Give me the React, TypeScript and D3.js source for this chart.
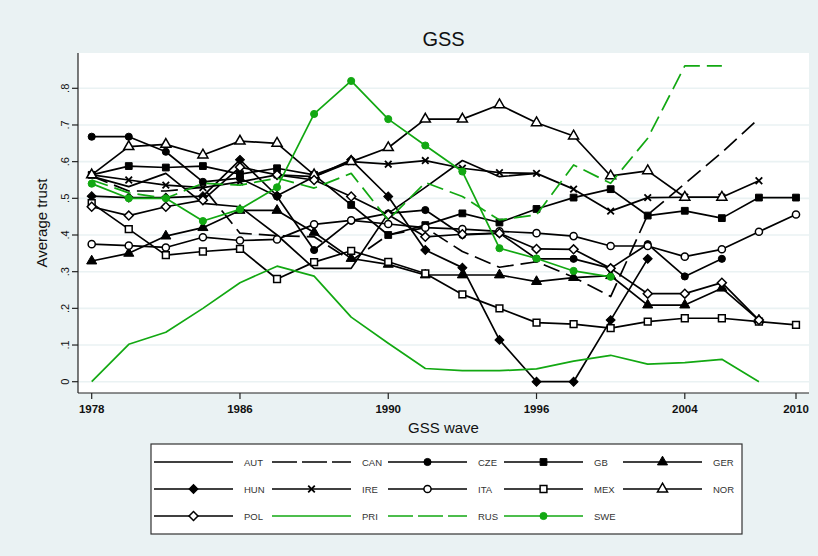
import * as d3 from "d3";

// GSS waves on the x axis (equally spaced)
const waves = ["1978", "1980", "1982", "1984", "1986", "1987", "1988", "1989", "1990", "1991",
  "1993", "1994", "1996", "1998", "2000", "2002", "2004", "2006", "2008", "2010"];
const xTickWaves = ["1978", "1986", "1990", "1996", "2004", "2010"];
const yTicks = [0, 0.1, 0.2, 0.3, 0.4, 0.5, 0.6, 0.7, 0.8];
const yTickLabels = ["0", ".1", ".2", ".3", ".4", ".5", ".6", ".7", ".8"];

const n = null;
const AUT = [0.56, 0.532, 0.568, 0.486, 0.477, 0.40, 0.309, 0.309, 0.459, 0.53, 0.603, 0.559, 0.568, n, n, n, n, n, n, n];
const CAN = [0.56, 0.52, 0.52, 0.53, 0.405, 0.398, 0.395, 0.33, 0.40, 0.42, 0.355, 0.312, 0.327, 0.285, 0.232, 0.455, 0.54, 0.625, 0.718, n];
const CZE = [0.668, 0.668, 0.627, 0.545, 0.555, 0.505, 0.359, 0.439, 0.459, 0.468, 0.40, 0.405, 0.335, 0.335, 0.309, 0.375, 0.287, 0.335, n, n];
const GB = [0.564, 0.588, 0.584, 0.588, 0.566, 0.582, 0.564, 0.482, 0.40, 0.427, 0.459, 0.434, 0.471, 0.502, 0.525, 0.453, 0.466, 0.446, 0.502, 0.502];
const GER = [0.329, 0.35, 0.397, 0.42, 0.467, 0.467, 0.407, 0.336, 0.32, 0.291, 0.291, 0.291, 0.273, 0.284, 0.289, 0.209, 0.209, 0.255, 0.168, n];
const HUN = [0.506, 0.502, 0.502, 0.506, 0.605, 0.507, 0.559, 0.605, 0.505, 0.359, 0.311, 0.114, 0, 0, 0.168, 0.335, n, n, n, n];
const IRE = [0.564, 0.55, 0.536, 0.529, 0.545, 0.564, 0.559, 0.60, 0.593, 0.603, 0.582, 0.57, 0.568, 0.525, 0.465, 0.502, 0.503, 0.503, 0.548, n];
const ITA = [0.375, 0.371, 0.366, 0.394, 0.385, 0.388, 0.429, 0.44, 0.43, 0.42, 0.416, 0.41, 0.405, 0.397, 0.37, 0.37, 0.341, 0.361, 0.409, 0.456];
const MEX = [0.487, 0.416, 0.345, 0.355, 0.362, 0.28, 0.326, 0.357, 0.327, 0.295, 0.238, 0.20, 0.161, 0.157, 0.146, 0.164, 0.173, 0.173, 0.164, 0.155];
const NOR = [0.564, 0.641, 0.647, 0.618, 0.656, 0.65, 0.564, 0.60, 0.638, 0.716, 0.716, 0.755, 0.706, 0.67, 0.561, 0.575, 0.503, 0.503, n, n];
const POL = [0.477, 0.453, 0.477, 0.495, 0.585, 0.564, 0.55, 0.505, 0.455, 0.395, 0.402, 0.405, 0.362, 0.361, 0.309, 0.24, 0.24, 0.27, 0.168, n];
const PRI = [0, 0.102, 0.135, 0.2, 0.27, 0.315, 0.288, 0.176, 0.105, 0.036, 0.030, 0.030, 0.035, 0.056, 0.072, 0.048, 0.052, 0.061, 0, n];
const RUS = [0.55, 0.515, 0.50, 0.541, 0.536, 0.555, 0.528, 0.568, 0.441, 0.543, 0.505, 0.441, 0.455, 0.591, 0.541, 0.664, 0.861, 0.861, n, n];
const SWE = [0.54, 0.50, 0.50, 0.438, 0.47, 0.53, 0.73, 0.82, 0.716, 0.644, 0.573, 0.364, 0.336, 0.302, 0.286, n, n, n, n, n];

const BLACK = "#000";
const GREEN = "#12a812";
const FONT = "'Liberation Sans', Arial, sans-serif";

type Marker = "none" | "circle" | "square" | "triangle" | "diamond" | "x" | "ocircle" | "osquare" | "otriangle" | "odiamond";

const series: { name: string; values: (number | null)[]; color: string; dash?: string; marker: Marker }[] = [
  { name: "AUT", values: AUT, color: BLACK, marker: "none" },
  { name: "CAN", values: CAN, color: BLACK, dash: "17 7", marker: "none" },
  { name: "CZE", values: CZE, color: BLACK, marker: "circle" },
  { name: "GB", values: GB, color: BLACK, marker: "square" },
  { name: "GER", values: GER, color: BLACK, marker: "triangle" },
  { name: "HUN", values: HUN, color: BLACK, marker: "diamond" },
  { name: "IRE", values: IRE, color: BLACK, marker: "x" },
  { name: "ITA", values: ITA, color: BLACK, marker: "ocircle" },
  { name: "MEX", values: MEX, color: BLACK, marker: "osquare" },
  { name: "NOR", values: NOR, color: BLACK, marker: "otriangle" },
  { name: "POL", values: POL, color: BLACK, marker: "odiamond" },
  { name: "PRI", values: PRI, color: GREEN, marker: "none" },
  { name: "RUS", values: RUS, color: GREEN, dash: "17 7", marker: "none" },
  { name: "SWE", values: SWE, color: GREEN, marker: "circle" },
];

const W = 818;
const H = 556;
const plot = { left: 78, right: 809, top: 53, bottom: 393 };

const x = d3.scalePoint<string>().domain(waves).range([91.7, 796]).padding(0);
const y = d3.scaleLinear().domain([0, 0.8]).range([381.7, 88.3]);

const symbolPath = (m: Marker): string => {
  switch (m) {
    case "circle":
    case "ocircle":
      return d3.symbol(d3.symbolCircle, 40)() as string;
    case "square":
    case "osquare":
      return d3.symbol(d3.symbolSquare, 46)() as string;
    case "triangle":
    case "otriangle":
      return d3.symbol(d3.symbolTriangle, 44)() as string;
    case "diamond":
    case "odiamond":
      return d3.symbol(d3.symbolSquare, 40)() as string;
    case "x":
      return d3.symbol(d3.symbolX, 30)() as string;
    default:
      return "";
  }
};

function MarkerShape({ m, cx, cy, color }: { m: Marker; cx: number; cy: number; color: string }) {
  if (m === "none") return null;
  const hollow = m.startsWith("o");
  const rot = m === "diamond" || m === "odiamond" ? " rotate(45)" : "";
  if (m === "x") {
    return <path d={symbolPath(m)} transform={`translate(${cx},${cy})`} fill="none" stroke={color} strokeWidth={1.8} />;
  }
  return (
    <path
      d={symbolPath(m)}
      transform={`translate(${cx},${cy})${rot}`}
      fill={hollow ? "#fff" : color}
      stroke={color}
      strokeWidth={hollow ? 1.5 : 1}
    />
  );
}

const line = d3
  .line<number | null>()
  .defined((d) => d !== null)
  .x((_, i) => x(waves[i]) as number)
  .y((d) => y(d as number));

// legend layout
const legendCols = [154, 272, 388, 504, 623];
const legendRows = [462, 489, 516];
const legendLineLen = 79;

export default function App() {
  return (
    <svg width={W} height={H} style={{ position: "absolute", left: 0, top: 0 }} fontFamily={FONT}>
      <rect x={0} y={0} width={W} height={H} fill="#eaf2f3" />
      <rect x={plot.left} y={plot.top} width={plot.right - plot.left} height={plot.bottom - plot.top} fill="#fff" />

      {/* gridlines */}
      {yTicks.map((t) => (
        <line key={t} x1={plot.left} x2={plot.right} y1={y(t)} y2={y(t)} stroke="#eaf2f3" strokeWidth={1.6} />
      ))}

      {/* title and axis titles */}
      <text x={(plot.left + plot.right) / 2} y={46} textAnchor="middle" fontSize={20} fill="#111">GSS</text>
      <text x={(plot.left + plot.right) / 2} y={433} textAnchor="middle" fontSize={15} fill="#111">GSS wave</text>
      <text transform={`translate(47,${(plot.top + plot.bottom) / 2}) rotate(-90)`} textAnchor="middle" fontSize={15} fill="#111">
        Average trust
      </text>

      {/* y axis */}
      <line x1={plot.left} x2={plot.left} y1={plot.top} y2={plot.bottom} stroke="#222" strokeWidth={1.2} />
      {yTicks.map((t, i) => (
        <g key={t}>
          <line x1={plot.left - 6} x2={plot.left} y1={y(t)} y2={y(t)} stroke="#222" strokeWidth={1.2} />
          <text transform={`translate(69,${y(t)}) rotate(-90)`} textAnchor="middle" fontSize={11} fill="#111">
            {yTickLabels[i]}
          </text>
        </g>
      ))}

      {/* x axis */}
      <line x1={plot.left} x2={plot.right} y1={plot.bottom} y2={plot.bottom} stroke="#222" strokeWidth={1.2} />
      {xTickWaves.map((w) => (
        <g key={w}>
          <line x1={x(w)} x2={x(w)} y1={plot.bottom} y2={plot.bottom + 6} stroke="#222" strokeWidth={1.2} />
          <text x={x(w)} y={plot.bottom + 20} textAnchor="middle" fontSize={11.5} fontWeight="bold" fill="#111">
            {w}
          </text>
        </g>
      ))}

      {/* series */}
      {series.map((s) => (
        <g key={s.name}>
          <path d={line(s.values) as string} fill="none" stroke={s.color} strokeWidth={1.7} strokeDasharray={s.dash} strokeLinejoin="round" />
          {s.values.map((v, i) =>
            v === null ? null : <MarkerShape key={i} m={s.marker} cx={x(waves[i]) as number} cy={y(v)} color={s.color} />
          )}
        </g>
      ))}

      {/* legend */}
      <rect x={151} y={444} width={591} height={90} fill="#fff" stroke="#333" strokeWidth={1.2} />
      {series.map((s, i) => {
        const cx = legendCols[i % 5];
        const cy = legendRows[Math.floor(i / 5)];
        return (
          <g key={s.name}>
            <line x1={cx} x2={cx + legendLineLen} y1={cy} y2={cy} stroke={s.color} strokeWidth={1.7} strokeDasharray={s.dash ? "25 5" : undefined} />
            <MarkerShape m={s.marker} cx={cx + legendLineLen / 2} cy={cy} color={s.color} />
            <text x={cx + 90} y={cy + 3.5} fontSize={9.5} fill="#333">{s.name}</text>
          </g>
        );
      })}
    </svg>
  );
}
